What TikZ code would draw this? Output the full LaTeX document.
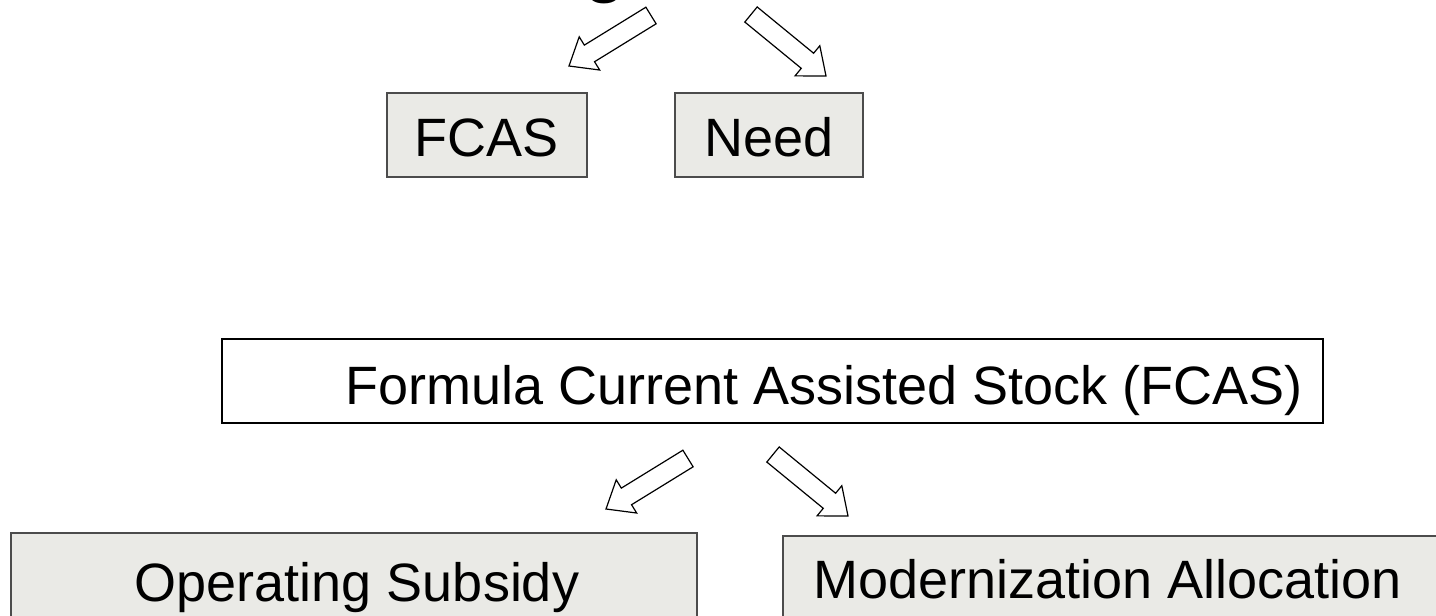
\documentclass[tikz,border=0pt]{standalone}
\usepackage{fontspec}
\setmainfont{Liberation Sans}
\tikzset{
  graybox/.style={draw=black!70, line width=1pt, fill={rgb,255:red,234;green,234;blue,230}},
  whitebox/.style={draw=black, line width=0.9pt, fill=white},
  lbl/.style={font=\fontsize{27pt}{32pt}\selectfont, inner sep=0pt, anchor=base},
  blockarrow/.style={draw=black, line width=0.6pt, fill=white, line join=miter}
}
\newcommand\BlockArrow[4]{% tail x,y ; angle ; length
  \begin{scope}[shift={(#1,#2)}, rotate=#3]
    \draw[blockarrow] (0,9.75) -- (#4-24,9.75) -- (#4-24,19.5) -- (#4,0)
      -- (#4-24,-19.5) -- (#4-24,-9.75) -- (0,-9.75) -- cycle;
  \end{scope}}
\begin{document}
\begin{tikzpicture}[x=0.5pt,y=-0.5pt]
\useasboundingbox (0,0) rectangle (1436,616);
\begin{scope}
\clip (0,0) rectangle (1436,616);
% partially visible title letter
\node[font=\fontsize{34pt}{40pt}\selectfont\bfseries, inner sep=0pt, anchor=base] (title) at (605,-11) {g};
% top boxes
\draw[graybox] (387,93) rectangle (587,177);
\node[lbl] (fcas) at (487,156) {FCAS};
\draw[graybox] (675,93) rectangle (863,177);
\node[lbl] (need) at (769,156) {Need};
% top arrows
\BlockArrow{651}{15.5}{211.63}{96.3}
\BlockArrow{751}{14.5}{-39.35}{97}
% middle box
\draw[whitebox] (222,339) rectangle (1323,423);
\node[lbl, anchor=base west] (formula) at (345,404) {Formula Current Assisted Stock (FCAS)};
% bottom arrows
\BlockArrow{688}{458.5}{211.63}{96.3}
\BlockArrow{773}{454.5}{-39.35}{97}
% bottom boxes
\draw[graybox] (11,533) rectangle (697,660);
\node[lbl] (opsub) at (357,601) {Operating Subsidy};
\draw[graybox] (783,536) rectangle (1450,660);
\node[lbl, anchor=base west] (modern) at (813,598) {Modernization Allocation};
\end{scope}
\end{tikzpicture}
\end{document}
